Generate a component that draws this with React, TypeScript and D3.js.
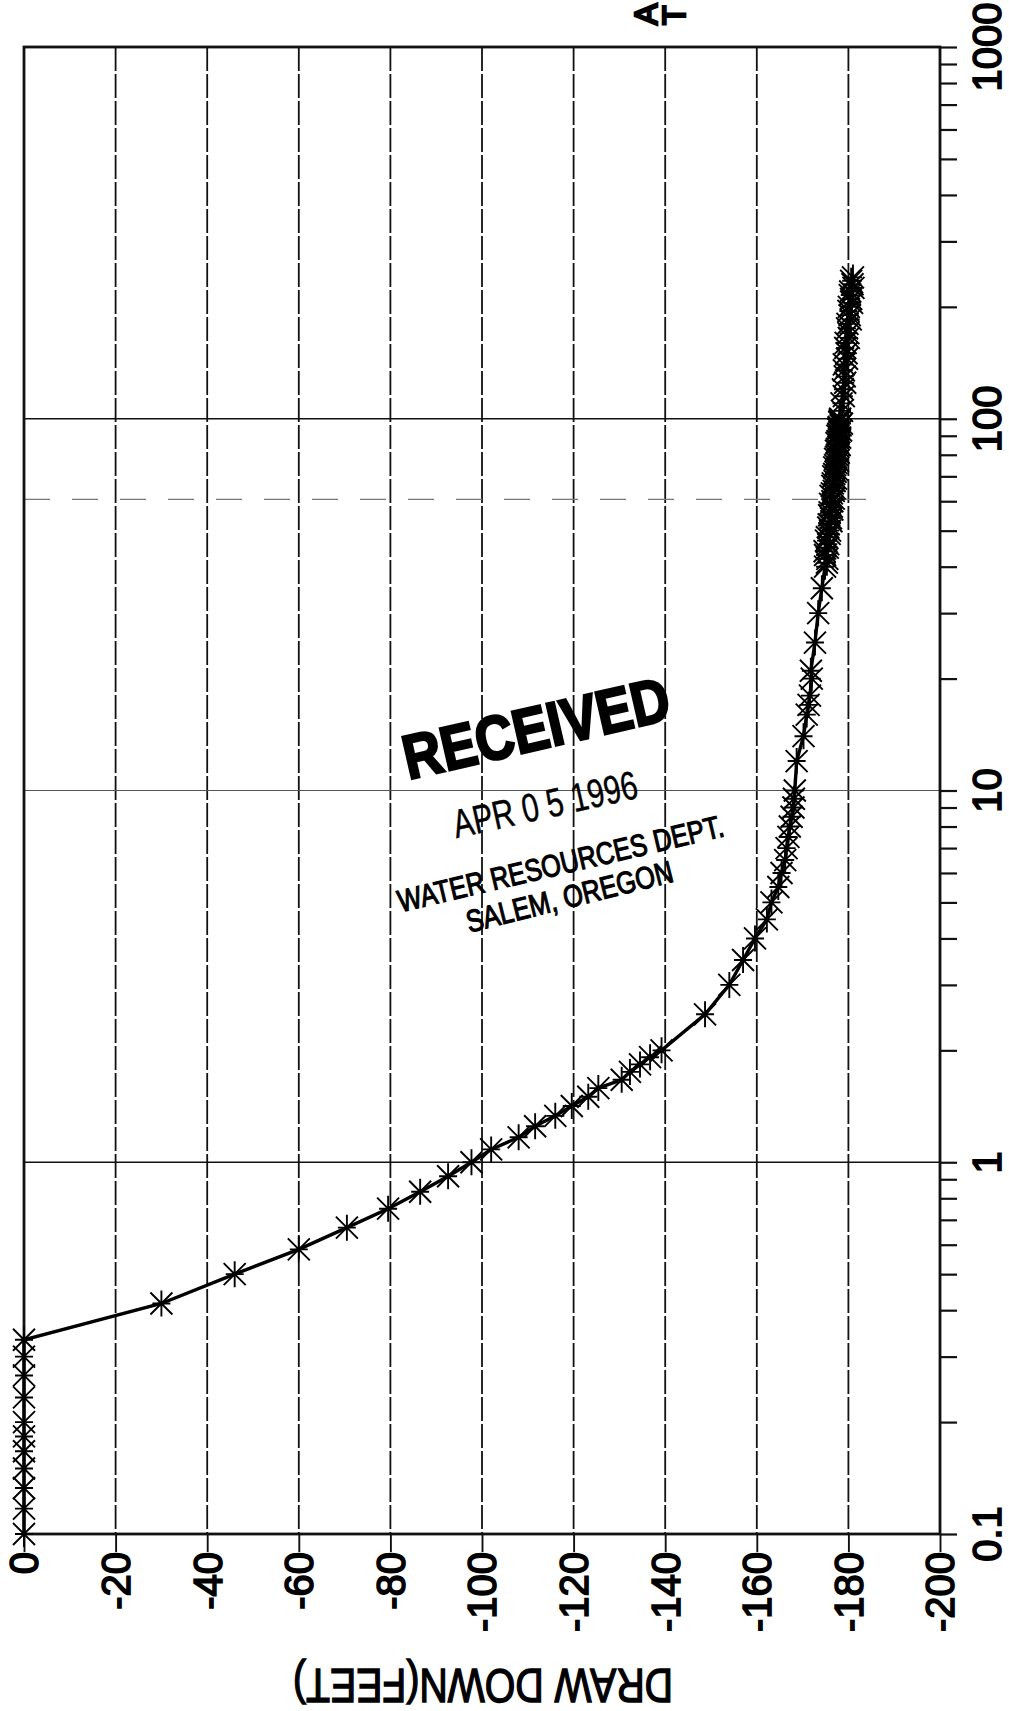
import { useEffect, useRef } from "react"
import * as d3 from "d3"

// elapsed time since pump start (minutes) and drawdown (feet)
const timeMinutes = [
  0.1, 0.117, 0.133, 0.15, 0.167, 0.183, 0.2, 0.233, 0.267, 0.3, 0.333,
  0.417, 0.5, 0.583, 0.667, 0.75, 0.833, 0.917, 1.0, 1.083, 1.167, 1.25, 1.333,
  1.417, 1.5, 1.583, 1.667, 1.75, 1.833, 1.917, 2.0, 2.5, 3.0, 3.5, 4.0, 4.5,
  5.0, 5.5, 6.0, 6.5, 7.0, 7.5, 8.0, 8.5, 9.0, 9.5, 10, 12, 14, 16, 17, 18,
  20, 21, 25, 30, 35,
  40, 41, 42, 43, 44, 45, 46, 47, 48, 49, 50, 51, 52, 53, 54, 55, 56, 57, 58, 59,
  60, 61, 62, 63, 64, 65, 66, 67, 68, 69, 70, 71, 72, 73, 74, 75, 76, 77, 78, 79,
  80, 81, 82, 83, 84, 85, 86, 87, 88, 89, 90, 91, 92, 93, 94, 95, 96, 97, 98, 99,
  100, 105, 110, 115, 120, 125, 130, 135, 140, 145, 150, 155, 160, 165, 170,
  175, 180, 185, 190, 195, 200, 205, 210, 215, 220, 225, 230, 235, 240,
]
const drawdownFeet = [
  0, 0, 0, 0, 0, 0, 0, 0, 0, 0, 0,
  -30, -46, -60, -70.5, -79.5, -86.5, -92.6, -97.7, -102, -108, -111.6, -116,
  -119.6, -123.2, -125.4, -130.5, -132.3, -134.5, -136.7, -139.2, -148.7, -154, -157, -159.6, -162.2,
  -163.2, -164.7, -165.4, -166.2, -166.5, -166.9, -167.2, -167.6, -168.0, -168.1, -168.3, -168.7, -170.2, -170.9, -171.3, -171.6,
  -172.0, -171.8, -172.7, -173.4, -174.2,
  -174.9, -175.3, -175.4, -174.9, -174.8, -175.5, -175.6, -175.1, -175.3, -175.9, -176.0, -175.6, -175.7, -176.3, -176.2, -175.8, -175.9, -176.5, -176.4, -176.0,
  -176.5, -176.8, -176.1, -176.4, -176.8, -177.0, -176.5, -176.6, -177.0, -177.3, -176.7, -176.9, -177.2, -177.5, -176.9, -177.1, -177.4, -177.7, -177.1, -177.3,
  -177.5, -177.9, -177.3, -177.5, -177.8, -178.1, -177.4, -177.6, -177.9, -178.2, -177.6, -177.8, -178.0, -178.4, -177.7, -177.9, -178.3, -178.6, -178.0, -178.1,
  -178.2, -178.6, -178.5, -179.0, -178.8, -179.3, -179.2, -179.0, -179.0, -179.7, -179.6, -179.3, -179.4, -180.1, -180.0,
  -179.7, -179.8, -180.5, -180.3, -180.0, -180.1, -180.8, -180.6, -180.3, -180.4, -181.1, -180.9, -180.6, -181.0,
]

const drawdownTicks = [0, -20, -40, -60, -80, -100, -120, -140, -160, -180, -200]
const timeDecades = [0.1, 1, 10, 100, 1000]
const timeLabels = ["0.1", "1", "10", "100", "1000"]
const minorFactors = [2, 3, 4, 5, 6, 7, 8, 9]
const dashedRefTime = 60.7

const axisTitle = "DRAW DOWN(FEET)"
const stampTitle = "RECEIVED"
const stampDate = "APR 0 5 1996"
const stampDept = "WATER RESOURCES DEPT."
const stampCity = "SALEM, OREGON"
const cutTitleLines = ["A", "T"]

export default function App() {
  const svgRef = useRef<SVGSVGElement>(null)

  useEffect(() => {
    if (!svgRef.current) return
    const width = 1009
    const height = 1711
    const left = 24
    const right = 940
    const top = 47
    const bottom = 1534
    const font = "'Liberation Sans', Arial, Helvetica, sans-serif"

    d3.select(svgRef.current).selectAll("*").remove()
    const svg = d3.select(svgRef.current).attr("width", width).attr("height", height)
    svg.append("rect").attr("width", width).attr("height", height).attr("fill", "#fff")

    const x = d3.scaleLinear().domain([0, -200]).range([left, right])
    const y = d3.scaleLog().domain([0.1, 1000]).range([bottom, top])

    // vertical dashed grid + ticks below the frame
    svg.append("g")
      .selectAll("line")
      .data(drawdownTicks.slice(1, -1))
      .enter()
      .append("line")
      .attr("x1", (d) => x(d))
      .attr("x2", (d) => x(d))
      .attr("y1", top)
      .attr("y2", bottom)
      .attr("stroke", "#111")
      .attr("stroke-width", 1.8)
      .attr("stroke-dasharray", "24,3")

    const bx = svg.append("g").attr("transform", `translate(0,${bottom})`)
      .call(d3.axisBottom(x).tickValues(drawdownTicks).tickSize(18).tickFormat(() => ""))
    bx.select(".domain").remove()
    bx.selectAll("line").attr("stroke", "#111").attr("stroke-width", 1.9)

    // horizontal decade lines
    svg.append("g")
      .selectAll("line")
      .data([1, 10, 100])
      .enter()
      .append("line")
      .attr("x1", left)
      .attr("x2", right)
      .attr("y1", (d) => y(d))
      .attr("y2", (d) => y(d))
      .attr("stroke", (d) => (d === 10 ? "#555" : "#111"))
      .attr("stroke-width", (d) => (d === 10 ? 1.1 : 1.7))

    svg.append("line")
      .attr("x1", left)
      .attr("x2", x(-188))
      .attr("y1", y(dashedRefTime))
      .attr("y2", y(dashedRefTime))
      .attr("stroke", "#777")
      .attr("stroke-width", 1.1)
      .attr("stroke-dasharray", "26,22")

    // right log axis ticks
    const minorTicks: number[] = []
    timeDecades.slice(0, -1).forEach((dec) => minorFactors.forEach((k) => minorTicks.push(dec * k)))
    const ry = svg.append("g").attr("transform", `translate(${right},0)`)
      .call(d3.axisRight(y).tickValues([...timeDecades, ...minorTicks]).tickSize(17).tickFormat(() => ""))
    ry.select(".domain").remove()
    ry.selectAll("line").attr("stroke", "#111").attr("stroke-width", 2.2)

    // frame
    svg.append("rect")
      .attr("x", left)
      .attr("y", top)
      .attr("width", right - left)
      .attr("height", bottom - top)
      .attr("fill", "none")
      .attr("stroke", "#111")
      .attr("stroke-width", 2.8)

    // data line
    const pts = timeMinutes.map((t, i) => [drawdownFeet[i], t] as [number, number])
    svg.append("path")
      .datum(pts)
      .attr("fill", "none")
      .attr("stroke", "#000")
      .attr("stroke-width", 3.4)
      .attr("d", d3.line<[number, number]>().x((d) => x(d[0])).y((d) => y(d[1])))

    // asterisk markers
    svg.append("g")
      .selectAll("path")
      .data(pts)
      .enter()
      .append("path")
      .attr("transform", (d) => `translate(${x(d[0])},${y(d[1])})`)
      .attr("d", "M-11,-11L11,11M-11,11L11,-11M0,-13V13M-9,0H9")
      .attr("stroke", "#000")
      .attr("stroke-width", 1.9)
      .attr("fill", "none")

    // bottom tick labels, reading bottom to top
    svg.append("g")
      .selectAll("text")
      .data(drawdownTicks)
      .enter()
      .append("text")
      .attr("transform", (d) => `translate(${x(d)},${bottom + 18}) rotate(-90)`)
      .attr("text-anchor", "end")
      .attr("dy", "0.36em")
      .attr("font-family", font)
      .attr("font-size", 40)
      .attr("fill", "#000")
      .attr("stroke", "#000")
      .attr("stroke-width", 1.6)
      .text((d) => String(d))

    // right tick labels
    svg.append("g")
      .selectAll("text")
      .data(timeDecades)
      .enter()
      .append("text")
      .attr("transform", (d) => `translate(${right + 47},${y(d)}) rotate(-90)`)
      .attr("text-anchor", "middle")
      .attr("dy", "0.36em")
      .attr("font-family", font)
      .attr("font-size", 40)
      .attr("fill", "#000")
      .attr("stroke", "#000")
      .attr("stroke-width", 1.6)
      .text((d, i) => timeLabels[i])

    // axis title, upside down
    svg.append("text")
      .attr("transform", `translate(483,1686) rotate(180)`)
      .attr("text-anchor", "middle")
      .attr("dy", "0.36em")
      .attr("font-family", font)
      .attr("font-size", 48)
      .attr("textLength", 380)
      .attr("lengthAdjust", "spacingAndGlyphs")
      .attr("fill", "#000")
      .attr("stroke", "#000")
      .attr("stroke-width", 1.4)
      .text(axisTitle)

    // cut-off title at the top edge
    svg.append("g")
      .selectAll("text")
      .data(cutTitleLines)
      .enter()
      .append("text")
      .attr("transform", (d, i) => `translate(${657 + i * 28},25) rotate(-90)`)
      .attr("font-family", font)
      .attr("font-size", 32)
      .attr("fill", "#000")
      .attr("stroke", "#000")
      .attr("stroke-width", 2.6)
      .text((d) => d)

    // "RECEIVED" stamp
    const stamp = svg.append("g")
    const stampText = (txt: string, cx: number, cy: number, angle: number, size: number, len: number, weight: string, sw: number) =>
      stamp.append("text")
        .attr("transform", `translate(${cx},${cy}) rotate(${angle})`)
        .attr("text-anchor", "middle")
        .attr("font-family", font)
        .attr("font-weight", weight)
        .attr("font-size", size)
        .attr("textLength", len)
        .attr("lengthAdjust", "spacingAndGlyphs")
        .attr("fill", "#000")
        .attr("stroke", "#000")
        .attr("stroke-width", sw)
        .text(txt)

    stampText(stampTitle, 541, 749, -13, 62, 272, "bold", 2.6)
    stampText(stampDate, 548, 818, -12.5, 40, 188, "normal", 0.4)
    stampText(stampDept, 563, 874, -13.2, 31, 334, "normal", 1.2)
    stampText(stampCity, 572, 907, -14, 31, 212, "normal", 1.2)
  }, [])

  return (
    <div style={{ position: "absolute", left: 0, top: 0 }}>
      <svg ref={svgRef} style={{ display: "block" }} />
    </div>
  )
}
